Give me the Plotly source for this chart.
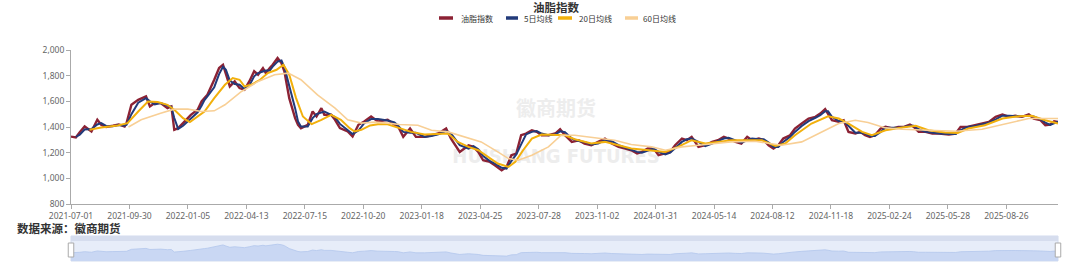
import plotly.graph_objects as go

# ---------------- data ----------------
tick_labels = ["2021-07-01", "2021-09-30", "2022-01-05", "2022-04-13", "2022-07-15",
               "2022-10-20", "2023-01-18", "2023-04-25", "2023-07-28", "2023-11-02",
               "2024-01-31", "2024-05-14", "2024-08-12", "2024-11-18", "2025-02-24",
               "2025-05-28", "2025-08-26"]
tick_days = [i * 60 for i in range(len(tick_labels))]   # category position of each label
last_day = 1013

index_days = [0, 5, 9, 14, 21, 27, 31, 36, 43, 49, 55, 57, 62, 69, 77, 81, 86, 92, 99, 103,
              106, 110, 115, 123, 130, 134, 137, 140, 147, 152, 156, 159, 163, 168, 173, 178,
              183, 188, 192, 197, 200, 204, 207, 212, 216, 219, 224, 230, 233, 236, 243, 248,
              252, 257, 260, 267, 271, 276, 284, 289, 295, 301, 308, 315, 325, 332, 336, 341,
              348, 354, 363, 370, 377, 385, 390, 399, 408, 413, 418, 423, 430, 435, 442, 447,
              452, 457, 462, 467, 473, 478, 483, 490, 497, 502, 507, 514, 521, 527, 534, 541,
              548, 555, 562, 569, 575, 581, 586, 592, 598, 603, 610, 615, 620, 627, 632, 637,
              644, 651, 658, 664, 670, 675, 682, 688, 694, 699, 706, 711, 716, 721, 726, 731,
              738, 743, 750, 757, 764, 769, 774, 777, 781, 788, 793, 798, 805, 810, 815, 820,
              825, 831, 836, 843, 849, 855, 861, 865, 870, 877, 884, 891, 901, 908, 913, 920,
              928, 935, 942, 949, 956, 963, 969, 976, 983, 988, 995, 1000, 1005, 1009, 1013]
index_values = [1325, 1318, 1360, 1404, 1365, 1456, 1417, 1400, 1410, 1420, 1404, 1430, 1573,
                1612, 1638, 1560, 1586, 1586, 1547, 1560, 1378, 1391, 1430, 1495, 1534, 1599,
                1625, 1651, 1768, 1859, 1885, 1807, 1716, 1755, 1703, 1690, 1755, 1834, 1807,
                1859, 1820, 1859, 1885, 1937, 1898, 1834, 1625, 1469, 1417, 1391, 1417, 1521,
                1482, 1547, 1495, 1495, 1456, 1391, 1365, 1326, 1417, 1443, 1482, 1443, 1456,
                1417, 1400, 1323, 1388, 1323, 1323, 1336, 1349, 1388, 1310, 1206, 1258, 1245,
                1206, 1141, 1128, 1102, 1062, 1089, 1180, 1193, 1336, 1349, 1375, 1362, 1336,
                1336, 1349, 1383, 1336, 1284, 1297, 1271, 1258, 1284, 1310, 1271, 1245, 1232,
                1219, 1193, 1206, 1232, 1232, 1180, 1193, 1206, 1258, 1310, 1297, 1323, 1245,
                1258, 1284, 1297, 1323, 1310, 1284, 1271, 1323, 1297, 1310, 1297, 1258, 1232,
                1258, 1310, 1336, 1388, 1427, 1466, 1479, 1505, 1539, 1505, 1453, 1440, 1453,
                1362, 1349, 1362, 1336, 1323, 1336, 1388, 1401, 1388, 1401, 1401, 1419, 1401,
                1362, 1362, 1349, 1349, 1341, 1349, 1401, 1401, 1414, 1427, 1440, 1479, 1498,
                1479, 1487, 1479, 1498, 1466, 1453, 1414, 1419, 1445, 1440]

ma5_days = index_days[1:]
ma5_values = [1322, 1340, 1380, 1385, 1420, 1430, 1408, 1405, 1415, 1410, 1418, 1500, 1590,
              1625, 1600, 1575, 1586, 1566, 1555, 1470, 1385, 1410, 1462, 1515, 1565, 1610,
              1638, 1710, 1812, 1870, 1846, 1762, 1735, 1730, 1697, 1722, 1795, 1820, 1833,
              1840, 1840, 1870, 1910, 1918, 1866, 1730, 1547, 1443, 1404, 1404, 1469, 1501,
              1515, 1521, 1495, 1476, 1424, 1378, 1346, 1372, 1430, 1462, 1462, 1450, 1436,
              1408, 1362, 1355, 1355, 1323, 1330, 1343, 1368, 1349, 1258, 1232, 1251, 1226,
              1174, 1134, 1115, 1082, 1076, 1135, 1186, 1265, 1342, 1362, 1368, 1349, 1336,
              1342, 1366, 1360, 1310, 1290, 1284, 1264, 1271, 1297, 1290, 1258, 1238, 1226,
              1206, 1200, 1219, 1232, 1206, 1187, 1200, 1232, 1284, 1304, 1310, 1284, 1251,
              1271, 1290, 1310, 1316, 1297, 1278, 1297, 1310, 1304, 1304, 1278, 1245, 1245,
              1284, 1323, 1362, 1408, 1446, 1472, 1492, 1522, 1522, 1479, 1446, 1446, 1408,
              1355, 1355, 1349, 1330, 1330, 1362, 1394, 1394, 1394, 1401, 1410, 1410, 1382,
              1362, 1355, 1349, 1345, 1345, 1375, 1401, 1408, 1420, 1434, 1460, 1488, 1488,
              1483, 1483, 1488, 1482, 1460, 1434, 1416, 1432, 1442]

ma20_days = [19, 31, 48, 58, 69, 79, 89, 99, 106, 115, 122, 128, 137, 147, 158, 166, 173, 178,
             185, 194, 202, 211, 218, 224, 231, 238, 247, 257, 267, 277, 286, 291, 298, 307,
             315, 325, 337, 349, 363, 377, 387, 397, 408, 418, 428, 438, 449, 456, 464, 473,
             483, 497, 507, 517, 534, 548, 562, 575, 593, 610, 623, 637, 651, 664, 678, 692,
             709, 723, 733, 743, 760, 777, 788, 798, 812, 822, 836, 853, 867, 880, 897, 910,
             921, 938, 956, 973, 986, 1000, 1013]
ma20_values = [1378, 1396, 1412, 1430, 1521, 1599, 1594, 1573, 1534, 1469, 1438, 1469, 1521,
               1625, 1729, 1781, 1768, 1716, 1729, 1768, 1820, 1846, 1885, 1807, 1625, 1482,
               1422, 1456, 1495, 1456, 1391, 1365, 1378, 1412, 1422, 1422, 1395, 1362, 1341,
               1349, 1349, 1284, 1245, 1219, 1167, 1115, 1089, 1128, 1219, 1310, 1341, 1336,
               1336, 1305, 1271, 1284, 1258, 1232, 1219, 1206, 1245, 1297, 1271, 1284, 1297,
               1297, 1297, 1253, 1271, 1336, 1427, 1484, 1466, 1427, 1362, 1336, 1375, 1396,
               1409, 1375, 1357, 1354, 1388, 1414, 1466, 1484, 1487, 1453, 1427]

ma60_days = [59, 72, 92, 106, 120, 134, 147, 158, 175, 192, 209, 223, 236, 253, 271, 284, 298,
             312, 325, 337, 356, 370, 387, 404, 421, 438, 449, 459, 473, 490, 503, 517, 541,
             558, 575, 596, 610, 627, 644, 661, 677, 702, 729, 750, 771, 788, 805, 818, 836,
             853, 880, 908, 935, 959, 983, 1013]
ma60_values = [1400, 1456, 1508, 1539, 1539, 1521, 1526, 1573, 1677, 1755, 1807, 1820, 1768,
               1651, 1547, 1456, 1430, 1438, 1430, 1420, 1414, 1375, 1362, 1323, 1284, 1206,
               1154, 1141, 1180, 1245, 1336, 1336, 1315, 1297, 1263, 1245, 1219, 1245, 1258,
               1271, 1284, 1289, 1258, 1284, 1362, 1427, 1453, 1435, 1393, 1383, 1375, 1367,
               1383, 1427, 1466, 1466]

series_names = ["油脂指数", "5日均线", "20日均线", "60日均线"]
series_colors = ["#8c2234", "#223a7a", "#f2b00c", "#f8cf95"]

# ---------------- figure geometry (px) ----------------
W, H = 1080, 269
ML, MR, MT, MB = 71, 22, 50, 8
PW, PH = W - ML - MR, H - MT - MB


def px_x(px):
    return (px - ML) / PW


def px_y(py):
    return 1 - (py - MT) / PH


fig = go.Figure()

line_widths = [2.4, 2, 2, 1.6]
all_series = [(index_days, index_values), (ma5_days, ma5_values),
              (ma20_days, ma20_values), (ma60_days, ma60_values)]
for (xs, ys), name, color, w in zip(all_series, series_names, series_colors, line_widths):
    fig.add_trace(go.Scatter(x=xs, y=ys, name=name, mode="lines",
                             line=dict(color=color, width=w),
                             xaxis="x", yaxis="y", showlegend=False))

# data-zoom slider shadow
fig.add_trace(go.Scatter(x=index_days, y=index_values, mode="lines", fill="tozeroy",
                         fillcolor="#c9d7f3", line=dict(color="#b3c6ec", width=0.8),
                         xaxis="x2", yaxis="y2", showlegend=False, hoverinfo="skip"))

font_family = "Noto Sans, Noto Sans CJK SC, sans-serif"
cjk_family = "Noto Sans CJK SC, Noto Sans, sans-serif"

fig.update_layout(
    width=W, height=H,
    margin=dict(l=ML, r=MR, t=MT, b=MB, autoexpand=False),
    paper_bgcolor="white", plot_bgcolor="white",
    font=dict(family=font_family, color="#666"),
    showlegend=False,
    xaxis=dict(domain=[0, 1], range=[0, last_day], anchor="y",
               tickmode="array", tickvals=tick_days, ticktext=tick_labels,
               showline=True, linecolor="#aaaaaa", linewidth=1,
               ticks="outside", ticklen=4, tickcolor="#aaaaaa",
               showgrid=False, zeroline=False,
               tickfont=dict(size=8.5, color="#666")),
    yaxis=dict(domain=[px_y(204), 1], range=[800, 2000], anchor="x",
               tickmode="array", tickvals=[800, 1000, 1200, 1400, 1600, 1800, 2000],
               tickformat=",", showline=True, linecolor="#aaaaaa", linewidth=1,
               ticks="outside", ticklen=4, tickcolor="#aaaaaa",
               showgrid=False, zeroline=False,
               tickfont=dict(size=8.5, color="#666")),
    xaxis2=dict(domain=[0, 1], range=[0, last_day], anchor="y2", visible=False),
    yaxis2=dict(domain=[0, px_y(236)], range=[740, 2520], anchor="x2", visible=False),
)

shapes = [
    # slider background and move strip
    dict(type="rect", xref="paper", yref="y2 domain", x0=0, x1=1, y0=0, y1=1,
         fillcolor="#e7edf9", line=dict(color="#d2dbee", width=1), layer="below"),
    dict(type="rect", xref="paper", yref="y2 domain", x0=0, x1=1, y0=0.8, y1=1,
         fillcolor="#d6ddee", line=dict(width=0), layer="below"),
    # handles
    dict(type="rect", xref="paper", yref="y2 domain", x0=-0.0028, x1=0.0028, y0=0.16, y1=0.72,
         fillcolor="white", line=dict(color="#aaaaaa", width=1), layer="above"),
    dict(type="rect", xref="paper", yref="y2 domain", x0=0.9972, x1=1.0028, y0=0.16, y1=0.72,
         fillcolor="white", line=dict(color="#aaaaaa", width=1), layer="above"),
    # watermark (below the lines)
    dict(type="rect", xref="paper", yref="paper", x0=px_x(480), x1=px_x(632),
         y0=px_y(120), y1=px_y(100), line=dict(width=0), layer="below",
         label=dict(text="徽商期货", textposition="middle center",
                    font=dict(family=cjk_family, size=20, color="#ededed", weight="bold"))),
    dict(type="rect", xref="paper", yref="paper", x0=px_x(440), x1=px_x(672),
         y0=px_y(165), y1=px_y(145), line=dict(width=0), layer="below",
         label=dict(text="HUISHANG FUTURES", textposition="middle center",
                    font=dict(family="Liberation Sans Narrow, DejaVu Sans Condensed, sans-serif",
                              size=20, color="#ededed", weight="bold"))),
]

# custom legend (short thick line + label), as in the reference
legend_line_px = [(439, 453), (506, 518), (558, 572), (625, 638)]
legend_text_px = [459, 522, 577, 641]
legend_y = px_y(18)
for (a, b), tx, name, color in zip(legend_line_px, legend_text_px, series_names, series_colors):
    shapes.append(dict(type="line", xref="paper", yref="paper", x0=px_x(a), x1=px_x(b),
                       y0=legend_y, y1=legend_y, line=dict(color=color, width=3.5)))
    fig.add_annotation(text=name, xref="paper", yref="paper", x=px_x(tx), y=legend_y,
                       xanchor="left", yanchor="middle", showarrow=False,
                       font=dict(family=cjk_family, size=8, color="#333"))

fig.update_layout(shapes=shapes)

# title
fig.add_annotation(text="油脂指数", xref="paper", yref="paper", x=px_x(556), y=px_y(7),
                   xanchor="center", yanchor="middle", showarrow=False,
                   font=dict(family=cjk_family, size=11.5, color="#333", weight="bold"))

# source
fig.add_annotation(text="数据来源：徽商期货", xref="paper", yref="paper",
                   x=px_x(15), y=px_y(227.5), xanchor="left", yanchor="middle",
                   showarrow=False,
                   font=dict(family=cjk_family, size=11.5, color="#333", weight="bold"))

fig.write_html("out.html")
